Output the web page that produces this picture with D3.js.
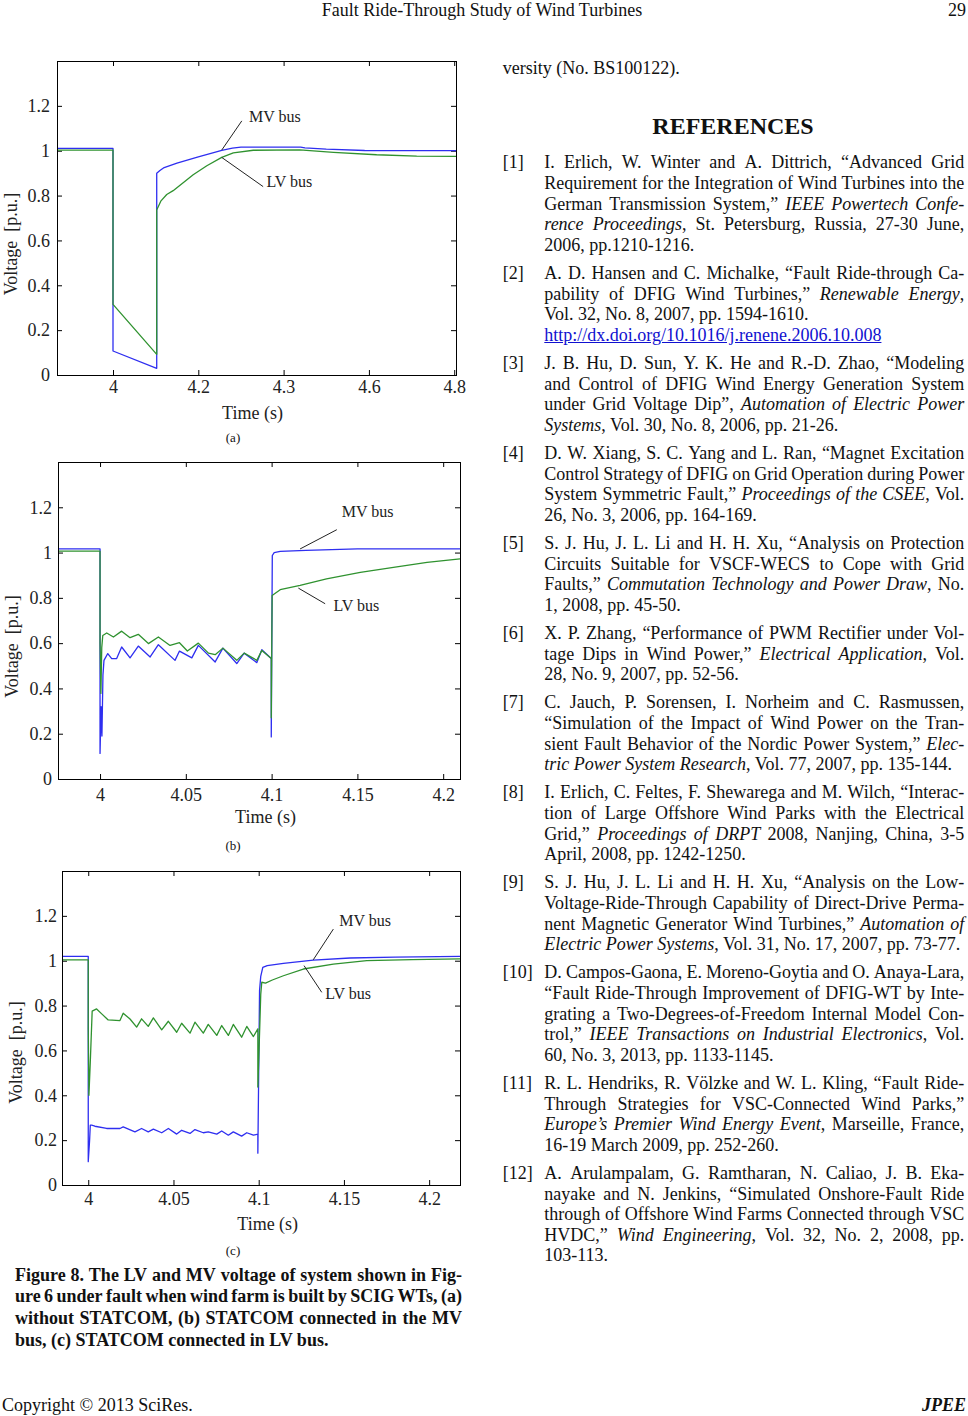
<!DOCTYPE html>
<html><head><meta charset="utf-8">
<script src="https://cdn.jsdelivr.net/npm/d3@7"></script>
<style>
html,body{margin:0;padding:0;background:#fff;}
#page{position:relative;width:968px;height:1416px;overflow:hidden;font-family:"Liberation Serif","Times New Roman",serif;color:#111;}
#page svg{position:absolute;left:0;top:0;}
.ln{position:absolute;white-space:nowrap;font-size:18px;line-height:20.6px;height:20.6px;}
.jl{display:flex;justify-content:space-between;}
.b{font-weight:bold;}
a.lk{color:#1010d0;text-decoration:underline;}
</style></head><body><div id="page"></div>
<script>
// ---------------- DATA ----------------
const yTickValues = [0, 0.2, 0.4, 0.6, 0.8, 1, 1.2];
const yTickLabels = ["0", "0.2", "0.4", "0.6", "0.8", "1", "1.2"];

// (a) without STATCOM
const aXTicks = [4, 4.2, 4.4, 4.6, 4.8];
const aXLabels = ["4", "4.2", "4.3", "4.6", "4.8"];
const aMV = [[3.8687,1.01],[4.0,1.01],[4.0,0.107],[4.1025,0.03],[4.1025,0.9],[4.11,0.912],[4.12,0.925],[4.15,0.945],[4.2,0.972],[4.255,1.002],[4.28,1.012],[4.3,1.016],[4.44,1.016],[4.45,1.013],[4.5,1.007],[4.59,1.001],[4.8042,1.0]];
const aLV = [[3.8687,1.003],[4.0,1.003],[4.0,0.315],[4.1025,0.092],[4.1025,0.736],[4.112,0.775],[4.126,0.805],[4.141,0.822],[4.188,0.893],[4.22,0.933],[4.255,0.97],[4.282,0.99],[4.329,1.002],[4.438,1.004],[4.517,0.993],[4.618,0.982],[4.712,0.976],[4.8042,0.975]];

// (b) STATCOM in MV bus
const bXTicks = [4, 4.05, 4.1, 4.15, 4.2];
const bXLabels = ["4", "4.05", "4.1", "4.15", "4.2"];
const bMV = [[3.9755,1.016],[4.0,1.016],[4.0,0.113],[4.0006,0.32],[4.0011,0.19],[4.0017,0.46],[4.0023,0.524],[4.0045,0.554],[4.0068,0.532],[4.0097,0.532],[4.0126,0.583],[4.0175,0.535],[4.0223,0.587],[4.0292,0.539],[4.034,0.593],[4.0437,0.524],[4.0463,0.565],[4.0535,0.535],[4.0573,0.59],[4.0671,0.517],[4.0716,0.578],[4.0797,0.51],[4.084,0.556],[4.0914,0.514],[4.0943,0.571],[4.0998,0.532],[4.0998,0.186],[4.1004,0.987],[4.1015,1.0],[4.105,1.005],[4.12,1.01],[4.15,1.016],[4.2098,1.016]];
const bLV = [[3.9755,1.006],[4.0,1.006],[4.0,0.6],[4.0005,0.378],[4.001,0.58],[4.0016,0.634],[4.0039,0.645],[4.0078,0.627],[4.0126,0.653],[4.0175,0.624],[4.0223,0.639],[4.0282,0.598],[4.034,0.627],[4.0408,0.59],[4.0463,0.602],[4.0509,0.565],[4.0573,0.6],[4.0632,0.556],[4.0671,0.549],[4.0716,0.578],[4.0797,0.524],[4.084,0.556],[4.0914,0.524],[4.0943,0.568],[4.0998,0.532],[4.0998,0.27],[4.1003,0.81],[4.105,0.836],[4.1166,0.855],[4.132,0.884],[4.1517,0.913],[4.171,0.935],[4.1906,0.957],[4.2098,0.972]];

// (c) STATCOM in LV bus
const cXTicks = [4, 4.05, 4.1, 4.15, 4.2];
const cXLabels = ["4", "4.05", "4.1", "4.15", "4.2"];
const cMV = [[3.9846,1.019],[4.0,1.019],[4.0,0.104],[4.0008,0.2],[4.0012,0.267],[4.002,0.267],[4.0039,0.262],[4.0108,0.252],[4.0186,0.252],[4.0205,0.259],[4.0274,0.237],[4.0313,0.252],[4.0352,0.237],[4.0382,0.249],[4.0431,0.233],[4.047,0.252],[4.0519,0.227],[4.0548,0.244],[4.0597,0.23],[4.0626,0.247],[4.0675,0.233],[4.0704,0.237],[4.0754,0.227],[4.0783,0.241],[4.0822,0.222],[4.0851,0.237],[4.09,0.218],[4.093,0.233],[4.0969,0.222],[4.0995,0.227],[4.0995,0.142],[4.1005,0.867],[4.1012,0.93],[4.1024,0.97],[4.105,0.978],[4.1145,0.988],[4.132,1.003],[4.1536,1.012],[4.18,1.016],[4.2181,1.019]];
const cLV = [[3.9846,1.004],[4.0,1.004],[4.0,0.7],[4.0004,0.40],[4.0012,0.548],[4.0023,0.775],[4.0049,0.785],[4.0079,0.763],[4.0117,0.736],[4.0186,0.733],[4.0205,0.766],[4.0245,0.74],[4.0284,0.704],[4.0313,0.741],[4.0352,0.707],[4.0382,0.745],[4.0431,0.692],[4.047,0.73],[4.0519,0.681],[4.0548,0.721],[4.0597,0.677],[4.0626,0.726],[4.0675,0.677],[4.0704,0.716],[4.0754,0.667],[4.0783,0.711],[4.0822,0.667],[4.0851,0.716],[4.09,0.659],[4.093,0.707],[4.0969,0.662],[4.0995,0.696],[4.0995,0.437],[4.1006,0.7],[4.1012,0.85],[4.1018,0.904],[4.104,0.9],[4.108,0.914],[4.1145,0.933],[4.1262,0.963],[4.1438,0.985],[4.1634,1.0],[4.19,1.005],[4.2181,1.008]];

// annotations (data coords): [label, textT, textV, fromT, fromV, toT, toV]
const aNotes = [["MV bus",4.319,1.13,4.302,1.133,4.255,1.003],["LV bus",4.36,0.837,4.352,0.84,4.255,0.97]];
const bNotes = [["MV bus",4.1409,1.155,4.138,1.101,4.1166,1.016],["LV bus",4.136,0.741,4.1312,0.774,4.1156,0.843]];
const cNotes = [["MV bus",4.1473,1.156,4.1438,1.141,4.132,1.004],["LV bus",4.139,0.83,4.137,0.859,4.1266,0.978]];

// ---------------- TEXT ----------------
const headerTitle = "Fault Ride-Through Study of Wind Turbines";
const pageNumber = "29";
const captionLines = [
 "Figure 8. The LV and MV voltage of system shown in Fig-",
 "ure 6 under fault when wind farm is built by SCIG WTs, (a)",
 "without STATCOM, (b) STATCOM connected in the MV",
 "bus, (c) STATCOM connected in LV bus."];
const refs = [
 {n:"[1]", lines:["I. Erlich, W. Winter and A. Dittrich, “Advanced Grid","Requirement for the Integration of Wind Turbines into the","German Transmission System,” _IEEE Powertech Confe-_","_rence Proceedings_, St. Petersburg, Russia, 27-30 June,","2006, pp.1210-1216."]},
 {n:"[2]", lines:["A. D. Hansen and C. Michalke, “Fault Ride-through Ca-","pability of DFIG Wind Turbines,” _Renewable Energy_,","Vol. 32, No. 8, 2007, pp. 1594-1610."], link:"http://dx.doi.org/10.1016/j.renene.2006.10.008"},
 {n:"[3]", lines:["J. B. Hu, D. Sun, Y. K. He and R.-D. Zhao, “Modeling","and Control of DFIG Wind Energy Generation System","under Grid Voltage Dip”, _Automation of Electric Power_","_Systems_, Vol. 30, No. 8, 2006, pp. 21-26."]},
 {n:"[4]", lines:["D. W. Xiang, S. C. Yang and L. Ran, “Magnet Excitation","Control Strategy of DFIG on Grid Operation during Power","System Symmetric Fault,” _Proceedings of the CSEE_, Vol.","26, No. 3, 2006, pp. 164-169."]},
 {n:"[5]", lines:["S. J. Hu, J. L. Li and H. H. Xu, “Analysis on Protection","Circuits Suitable for VSCF-WECS to Cope with Grid","Faults,” _Commutation Technology and Power Draw_, No.","1, 2008, pp. 45-50."]},
 {n:"[6]", lines:["X. P. Zhang, “Performance of PWM Rectifier under Vol-","tage Dips in Wind Power,” _Electrical Application_, Vol.","28, No. 9, 2007, pp. 52-56."]},
 {n:"[7]", lines:["C. Jauch, P. Sorensen, I. Norheim and C. Rasmussen,","“Simulation of the Impact of Wind Power on the Tran-","sient Fault Behavior of the Nordic Power System,” _Elec-_","_tric Power System Research_, Vol. 77, 2007, pp. 135-144."]},
 {n:"[8]", lines:["I. Erlich, C. Feltes, F. Shewarega and M. Wilch, “Interac-","tion of Large Offshore Wind Parks with the Electrical","Grid,” _Proceedings of DRPT_ 2008, Nanjing, China, 3-5","April, 2008, pp. 1242-1250."]},
 {n:"[9]", lines:["S. J. Hu, J. L. Li and H. H. Xu, “Analysis on the Low-","Voltage-Ride-Through Capability of Direct-Drive Perma-","nent Magnetic Generator Wind Turbines,” _Automation of_","_Electric Power Systems_, Vol. 31, No. 17, 2007, pp. 73-77."]},
 {n:"[10]", lines:["D. Campos-Gaona, E. Moreno-Goytia and O. Anaya-Lara,","“Fault Ride-Through Improvement of DFIG-WT by Inte-","grating a Two-Degrees-of-Freedom Internal Model Con-","trol,” _IEEE Transactions on Industrial Electronics_, Vol.","60, No. 3, 2013, pp. 1133-1145."]},
 {n:"[11]", lines:["R. L. Hendriks, R. Völzke and W. L. Kling, “Fault Ride-","Through Strategies for VSC-Connected Wind Parks,”","_Europe’s Premier Wind Energy Event_, Marseille, France,","16-19 March 2009, pp. 252-260."]},
 {n:"[12]", lines:["A. Arulampalam, G. Ramtharan, N. Caliao, J. B. Eka-","nayake and N. Jenkins, “Simulated Onshore-Fault Ride","through of Offshore Wind Farms Connected through VSC","HVDC,” _Wind Engineering_, Vol. 32, No. 2, 2008, pp.","103-113."]}
];

// ---------------- DRAW ----------------
const BLUE = "#2e2ef0", GREEN = "#2f922f", INK = "#222";
const page = d3.select("#page");
const svg = page.append("svg").attr("width", 968).attr("height", 1416);

const panels = [
 {mv:aMV, lv:aLV, xt:aXTicks, xl:aXLabels, notes:aNotes, L:57, R:456, T:61, B:375, dom:[3.8687,4.8042], xpad:5, ypad:7, ylab:[11,244], xlab:[252.5,413], tag:"(a)", tagPos:[233,437]},
 {mv:bMV, lv:bLV, xt:bXTicks, xl:bXLabels, notes:bNotes, L:58, R:460, T:462, B:779, dom:[3.9755,4.2098], xpad:9, ypad:6, ylab:[11.7,646.5], xlab:[265.5,817], tag:"(b)", tagPos:[233,845]},
 {mv:cMV, lv:cLV, xt:cXTicks, xl:cXLabels, notes:cNotes, L:62, R:460, T:871, B:1185, dom:[3.9846,4.2181], xpad:7, ypad:5, ylab:[16,1052.5], xlab:[267.7,1223.5], tag:"(c)", tagPos:[233,1250]}
];

panels.forEach(p => {
  const g = svg.append("g");
  const x = d3.scaleLinear().domain(p.dom).range([p.L, p.R]);
  const y = d3.scaleLinear().domain([0, 1.4]).range([p.B, p.T]);
  const line = d3.line().x(d => x(d[0])).y(d => y(d[1]));

  const styleAxis = sel => {
    sel.select(".domain").remove();
    sel.selectAll("line").attr("stroke", "#000");
    sel.selectAll("text").attr("font-family", "Liberation Serif, serif").attr("font-size", 18).attr("fill", INK);
  };
  g.append("g").attr("transform", `translate(0,${p.B})`)
    .call(d3.axisBottom(x).tickValues(p.xt).tickFormat((d, i) => p.xl[i]).tickSizeInner(-5).tickSizeOuter(0).tickPadding(p.xpad)).call(styleAxis);
  g.append("g").attr("transform", `translate(0,${p.T})`)
    .call(d3.axisTop(x).tickValues(p.xt).tickFormat("").tickSizeInner(-5).tickSizeOuter(0)).call(styleAxis);
  g.append("g").attr("transform", `translate(${p.L},0)`)
    .call(d3.axisLeft(y).tickValues(yTickValues).tickFormat((d, i) => yTickLabels[i]).tickSizeInner(-5).tickSizeOuter(0).tickPadding(p.ypad)).call(styleAxis);
  g.append("g").attr("transform", `translate(${p.R},0)`)
    .call(d3.axisRight(y).tickValues(yTickValues).tickFormat("").tickSizeInner(-5).tickSizeOuter(0)).call(styleAxis);

  g.append("path").datum(p.mv).attr("d", line).attr("fill", "none").attr("stroke", BLUE).attr("stroke-width", 1.3).attr("stroke-linejoin", "round");
  g.append("path").datum(p.lv).attr("d", line).attr("fill", "none").attr("stroke", GREEN).attr("stroke-width", 1.3).attr("stroke-linejoin", "round");

  g.append("rect").attr("x", p.L + 0.5).attr("y", p.T + 0.5).attr("width", p.R - p.L).attr("height", p.B - p.T)
    .attr("fill", "none").attr("stroke", "#000").attr("stroke-width", 1);

  p.notes.forEach(n => {
    g.append("line").attr("x1", x(n[3])).attr("y1", y(n[4])).attr("x2", x(n[5])).attr("y2", y(n[6])).attr("stroke", INK).attr("stroke-width", 1);
    g.append("text").attr("x", x(n[1])).attr("y", y(n[2])).text(n[0])
      .attr("font-family", "Liberation Serif, serif").attr("font-size", 16).attr("fill", INK);
  });

  g.append("text").attr("x", p.xlab[0]).attr("y", p.xlab[1] + 6).attr("text-anchor", "middle")
    .attr("font-family", "Liberation Serif, serif").attr("font-size", 18).attr("fill", INK).text("Time (s)");
  g.append("text").attr("transform", `translate(${p.ylab[0] + 6},${p.ylab[1]}) rotate(-90)`).attr("text-anchor", "middle")
    .attr("font-family", "Liberation Serif, serif").attr("font-size", 18).attr("fill", INK).text("Voltage\u00a0 [p.u.]");
  g.append("text").attr("x", p.tagPos[0]).attr("y", p.tagPos[1] + 4.5).attr("text-anchor", "middle")
    .attr("font-family", "Liberation Serif, serif").attr("font-size", 13).attr("fill", "#111").text(p.tag);
});

// text helpers
function toTokens(str) {
  let ital = false;
  return str.split(" ").map(tok => {
    let h = ital ? "<i>" : "";
    for (const ch of tok) {
      if (ch === "_") { h += ital ? "</i>" : "<i>"; ital = !ital; }
      else h += ch === "&" ? "&amp;" : ch === "<" ? "&lt;" : ch;
    }
    if (ital) h += "</i>";
    return h;
  });
}
function addLine(str, x, yc, w, justify, extraCls) {
  const div = page.append("div").attr("class", "ln" + (justify ? " jl" : "") + (extraCls ? " " + extraCls : ""))
    .style("left", x + "px").style("top", (yc - 10.3) + "px");
  if (w) div.style("width", w + "px");
  const toks = toTokens(str);
  if (justify) toks.forEach(t => div.append("span").html(t));
  else div.html(toks.join(" "));
  return div;
}

// header
page.append("div").attr("class", "ln").style("left", "0px").style("width", "964px").style("text-align", "center")
  .style("top", "0px").style("line-height", "20px").text(headerTitle);
page.append("div").attr("class", "ln").style("left", "900px").style("width", "66px").style("text-align", "right")
  .style("top", "0px").style("line-height", "20px").text(pageNumber);

// right column
addLine("versity (No. BS100122).", 502.7, 68.3, null, false);
page.append("div").attr("class", "ln b").style("left", "500px").style("width", "466px").style("text-align", "center")
  .style("font-size", "24px").style("top", (126.7 - 10.3) + "px").text("REFERENCES");

const LX = 502.7, TX = 544.3, TW = 420, PITCH = 20.6, GAP = 28.2;
let yc = 162.7;
refs.forEach(r => {
  addLine(r.n, LX, yc, null, false);
  const nl = r.lines.length;
  r.lines.forEach((s, i) => {
    addLine(s, TX, yc, TW, i < nl - 1);
    yc += PITCH;
  });
  if (r.link) {
    const d = page.append("div").attr("class", "ln").style("left", TX + "px").style("top", (yc - 10.3) + "px");
    d.append("a").attr("class", "lk").text(r.link);
    yc += PITCH;
  }
  yc += GAP - PITCH;
});

// caption
captionLines.forEach((s, i) => addLine(s, 15, 1275 + i * 21.7, 447, i < captionLines.length - 1, "b"));

// footer
page.append("div").attr("class", "ln").style("left", "2px").style("top", "1396px").style("line-height", "18px").style("height", "18px")
  .text("Copyright © 2013 SciRes.");
page.append("div").attr("class", "ln b").style("left", "880px").style("width", "86px").style("text-align", "right")
  .style("font-style", "italic").style("top", "1396px").style("line-height", "18px").style("height", "18px").text("JPEE");
</script>
</body></html>
